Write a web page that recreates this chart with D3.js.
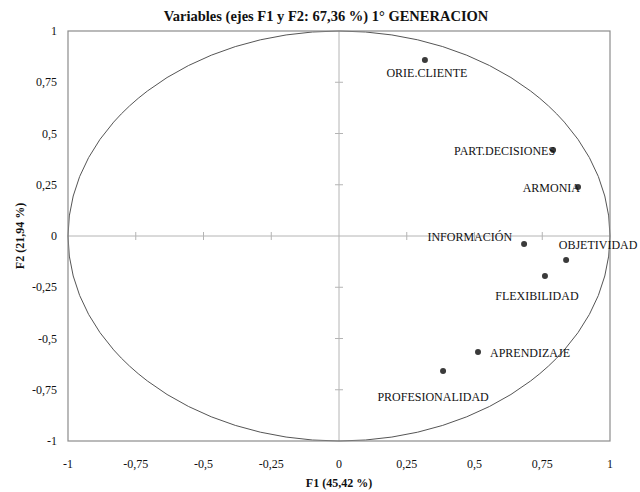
<!DOCTYPE html>
<html><head><meta charset="utf-8">
<script src="https://cdn.jsdelivr.net/npm/d3@7"></script>
<style>body{margin:0;background:#fff}svg{display:block}</style>
</head><body>
<svg id="c" width="640" height="492"></svg>
<script>
const labels = ["ORIE.CLIENTE","PART.DECISIONES","ARMONIA","INFORMACIÓN","OBJETIVIDAD","FLEXIBILIDAD","APRENDIZAJE","PROFESIONALIDAD"];
const f1 = [0.317, 0.790, 0.882, 0.683, 0.838, 0.760, 0.513, 0.384];
const f2 = [0.859, 0.420, 0.239, -0.039, -0.117, -0.195, -0.566, -0.659];
const labelPos = ["below","left","left","aboveleft","above","below","right","below"];
const ticks = [-1,-0.75,-0.5,-0.25,0,0.25,0.5,0.75,1];
const tickLabels = ["-1","-0,75","-0,5","-0,25","0","0,25","0,5","0,75","1"];
const title = "Variables (ejes F1 y F2: 67,36 %) 1° GENERACION";
const xTitle = "F1 (45,42 %)";
const yTitle = "F2 (21,94 %)";

const svg = d3.select("#c");
const L=68, R=610, T=31, B=441;
const x = d3.scaleLinear().domain([-1,1]).range([L,R]);
const y = d3.scaleLinear().domain([-1,1]).range([B,T]);
const font = "'Liberation Serif','Times New Roman',serif";
const axisCol = "#b4b4b4";

svg.append("text").attr("x",326).attr("y",21).attr("text-anchor","middle")
  .attr("font-family",font).attr("font-weight","bold").attr("font-size",14.5).attr("fill","#111").text(title);

svg.append("line").attr("x1",x(-1)).attr("x2",x(1)).attr("y1",y(0)).attr("y2",y(0)).attr("stroke",axisCol);
svg.append("line").attr("x1",x(0)).attr("x2",x(0)).attr("y1",y(-1)).attr("y2",y(1)).attr("stroke",axisCol);
const inner = ticks.filter(t=>t!==0 && Math.abs(t)!==1);
svg.selectAll(".tk").data(inner).enter().append("line")
  .attr("x1",d=>x(d)).attr("x2",d=>x(d)).attr("y1",y(0)-4).attr("y2",y(0)+4).attr("stroke",axisCol);
svg.selectAll(".tky").data(inner).enter().append("line")
  .attr("y1",d=>y(d)).attr("y2",d=>y(d)).attr("x1",x(0)-4).attr("x2",x(0)+4).attr("stroke",axisCol);

svg.append("ellipse").attr("cx",x(0)).attr("cy",y(0)).attr("rx",x(1)-x(0)).attr("ry",y(0)-y(1))
  .attr("fill","none").attr("stroke","#555").attr("stroke-width",1);

svg.append("rect").attr("x",L).attr("y",T).attr("width",R-L).attr("height",B-T)
  .attr("fill","none").attr("stroke","#8c8c8c").attr("stroke-width",1.2);

svg.selectAll(".xl").data(ticks).enter().append("text")
  .attr("x",d=>x(d)).attr("y",B+27).attr("text-anchor","middle")
  .attr("font-family",font).attr("font-size",12).attr("fill","#111")
  .text((d,i)=>tickLabels[i]);
svg.selectAll(".yl").data(ticks).enter().append("text")
  .attr("x",57).attr("y",d=>y(d)+4).attr("text-anchor","end")
  .attr("font-family",font).attr("font-size",12).attr("fill","#111")
  .text((d,i)=>tickLabels[i]);

svg.append("text").attr("x",x(0)).attr("y",487).attr("text-anchor","middle")
  .attr("font-family",font).attr("font-weight","bold").attr("font-size",12).attr("fill","#111").text(xTitle);
svg.append("text").attr("transform",`translate(24,${y(0)}) rotate(-90)`).attr("text-anchor","middle")
  .attr("font-family",font).attr("font-weight","bold").attr("font-size",12).attr("fill","#111").text(yTitle);

const data = labels.map((l,i)=>({l, a:f1[i], b:f2[i], p:labelPos[i]}));
svg.selectAll(".pt").data(data).enter().append("circle")
  .attr("cx",d=>x(d.a)).attr("cy",d=>y(d.b)).attr("r",3).attr("fill","#3a3a3a");

svg.selectAll(".lb").data(data).enter().append("text")
  .attr("font-family",font).attr("font-size",12).attr("fill","#111")
  .attr("x",d=>{const px=x(d.a); if(d.p==="left") return px+2; if(d.p==="right") return px+12; if(d.p==="aboveleft") return px-12; if(d.p==="above") return px+32; if(d.p==="below") return px-(d.l==="PROFESIONALIDAD"?10:(d.l==="FLEXIBILIDAD"?8:-2)); return px;})
  .attr("y",d=>{const py=y(d.b); if(d.p==="below") return py+(d.l==="PROFESIONALIDAD"?30:(d.l==="FLEXIBILIDAD"?24:17)); if(d.p==="above") return py-11; if(d.p==="aboveleft") return py-3; return py+5;})
  .attr("text-anchor",d=>d.p==="left"||d.p==="aboveleft"?"end":(d.p==="right"?"start":"middle"))
  .text(d=>d.l);
</script>
</body></html>
